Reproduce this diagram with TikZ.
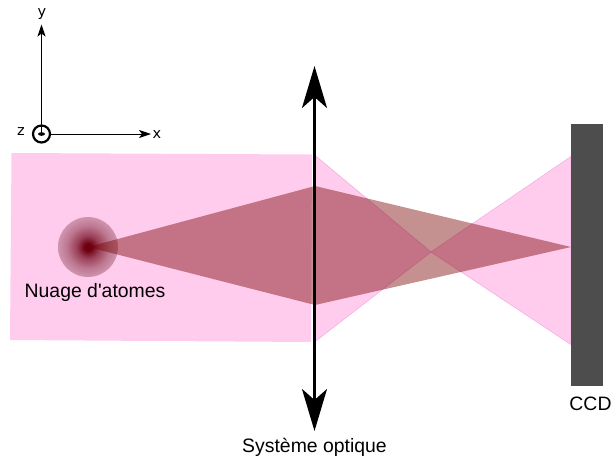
\documentclass[tikz,border=0pt]{standalone}
\usepackage{fontspec}
\newfontfamily\labelfont{Liberation Sans}
\newfontfamily\axisfont{DejaVu Sans}
\usetikzlibrary{arrows.meta}
\definecolor{pinkfill}{HTML}{FFCCEE}
\definecolor{pinkedge}{HTML}{F4AEE4}
\definecolor{redfill}{HTML}{780000}
\definecolor{ccdgray}{HTML}{4D4D4D}
\definecolor{cloudcore}{HTML}{6E0012}
\definecolor{cloudinner}{HTML}{9A4058}
\definecolor{cloudmid}{HTML}{BC7890}
\definecolor{cloudouter}{HTML}{D8A0BC}
\definecolor{cloudrim}{HTML}{EEBEDC}
\pgfdeclareradialshading{cloudshade}{\pgfpointorigin}{
  color(0bp)=(cloudcore);
  color(3bp)=(cloudcore);
  color(9.4bp)=(cloudinner);
  color(17.7bp)=(cloudmid);
  color(28bp)=(cloudouter);
  color(35.4bp)=(cloudrim);
  color(50bp)=(cloudrim)}
\tikzset{
  x=1pt,y=-1pt,
  beam/.style={fill=pinkfill,draw=pinkedge,line width=0.6pt,line join=miter},
  image/.style={fill=redfill,fill opacity=0.435,draw=none},
  lens/.style={draw=black,line width=2.4pt,{Stealth[length=42pt,width=25pt,inset=11pt]}-{Stealth[length=42pt,width=25pt,inset=11pt]}},
  axis/.style={draw=black,line width=0.9pt,-{Stealth[length=12pt,width=8pt,inset=3pt]}},
  label/.style={font=\labelfont\fontsize{19.4}{22}\selectfont,inner sep=0pt,anchor=base,text=black},
  axislabel/.style={font=\axisfont\fontsize{14.5}{16}\selectfont,inner sep=0pt,anchor=base,text=black},
  zring/.style={draw=black,line width=2.2pt,fill=none,circle,minimum size=17pt,inner sep=0pt},
  ccdbar/.style={fill=ccdgray,draw=none,rectangle,inner sep=0pt,minimum width=32pt,minimum height=262pt},
  cloud/.style={circle,minimum size=60pt,inner sep=0pt,shading=cloudshade}
}
\begin{document}
\begin{tikzpicture}
\useasboundingbox (0,0) rectangle (611,459);
% incoming beam
\fill[pinkfill] (11.5,153) -- (312,154.5) -- (311,342) -- (10,340) -- cycle;
% converging beam, then diverging beam
\coordinate (focus) at (431,252);
\path[beam] (314.5,155) -- (focus) -- (314.5,342) -- cycle;
\path[beam] (focus) -- (571,156.5) -- (571,344.5) -- cycle;
% atom cloud
\node[cloud] (cloud) at (88,247) {};
% image rays
\coordinate (src) at (88,247);
\coordinate (up) at (315,186);
\coordinate (img) at (571,247);
\coordinate (low) at (315,305);
\fill[image] (src) -- (up) -- (img) -- (low) -- cycle;
% CCD
\node[ccdbar] (ccd) at (587,255) {};
% lens
\coordinate (lenstop) at (314.5,66);
\coordinate (lensbot) at (314.5,431);
\draw[lens] (lensbot) -- (lenstop);
% axes
\node[zring] (z) at (41.5,134) {};
\coordinate (ytip) at (41.5,24.5);
\coordinate (xtip) at (151,134);
\draw[axis] (z.center) -- (ytip);
\draw[axis] (z) -- (xtip);
\fill[black] (z.center) ellipse (3.5pt and 1.8pt);
% labels
\node[axislabel] (ylab) at (42,16.5) {y};
\node[axislabel] (xlab) at (157,138) {x};
\node[axislabel] (zlab) at (21,135) {z};
\node[label,anchor=base west] (nuage) at (24.5,297) {Nuage d'atomes};
\node[label] (sys) at (314.5,452) {Système optique};
\node[label] (ccdlab) at (590.5,410) {CCD};
\end{tikzpicture}
\end{document}
